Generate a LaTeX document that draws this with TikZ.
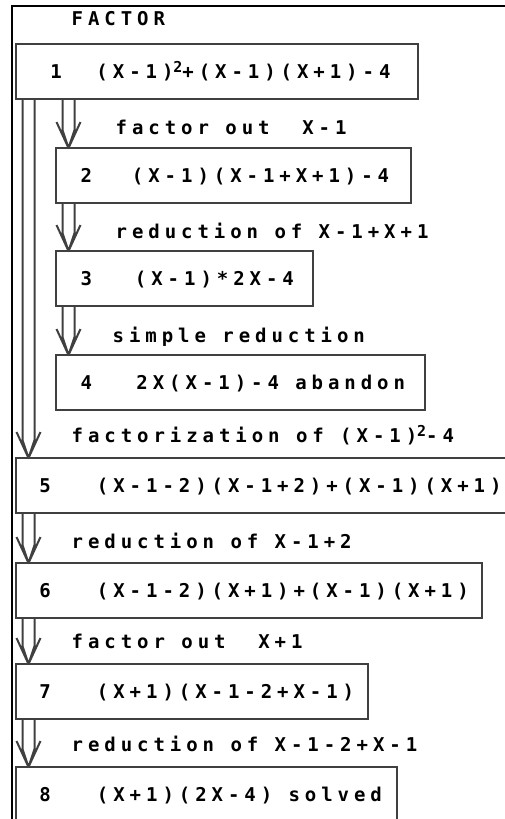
\documentclass[tikz,border=0pt]{standalone}
\usepackage{fontspec}
\newfontfamily\pixfont{DejaVu Sans Mono Bold}[LetterSpace=26]
\usetikzlibrary{calc}
\definecolor{ink}{gray}{0.25}
% raised square, box row text
\newcommand{\tsq}{\raisebox{6pt}{\fontsize{15}{15}\selectfont 2}}
\newcommand{\rowtext}[5]{\makebox[#1][l]{\hspace*{#2}\makebox[#3][l]{#4}#5}}
\tikzset{%
  frame/.style={draw=black, line width=2pt},
  stepbox/.style={draw=ink, line width=2pt, rectangle, anchor=north west,
    inner xsep=0pt, inner ysep=0pt, outer sep=0pt, minimum height=55pt,
    text height=14pt, text depth=0pt},
  lbl/.style={anchor=base west, inner sep=0pt},
  head/.style={anchor=base west, inner sep=0pt},
  dbl/.style={draw=ink, line width=2pt, line join=round, to path={
    ($(\tikztostart)+(-6,0)$) -- ($(\tikztotarget)+(-6,-18)$) -- (\tikztotarget)
    ($(\tikztostart)+(6,0)$) -- ($(\tikztotarget)+(6,-18)$) -- (\tikztotarget)
    ($(\tikztotarget)+(-12,-26)$) -- (\tikztotarget) -- ($(\tikztotarget)+(12,-26)$)}}%
}

\begin{document}
\begin{tikzpicture}[x=1pt, y=-1pt,
    font=\pixfont\fontsize{19}{21}\selectfont]
\useasboundingbox (0,0) rectangle (504,819);

\draw[frame] (12,830) |- (600,6);
\node[head] (title) at (71.5,25) {FACTOR};

% expression boxes
\node[stepbox] (b1) at (15.5,44)
{\rowtext{402.5pt}{35pt}{46pt}{1}{(X-1)\tsq+(X-1)(X+1)-4}};
\node[stepbox] (b2) at (55.5,148)
{\rowtext{355.5pt}{25pt}{51.5pt}{2}{(X-1)(X-1+X+1)-4}};
\node[stepbox] (b3) at (55.5,251)
{\rowtext{257.5pt}{25pt}{54.5pt}{3}{(X-1)*2X-4}};
\node[stepbox] (b4) at (55.5,355)
{\rowtext{369.5pt}{25pt}{56pt}{4}{2X(X-1)-4 abandon}};
\node[stepbox] (b5) at (15.5,458)
{\rowtext{600pt}{24pt}{57.5pt}{5}{(X-1-2)(X-1+2)+(X-1)(X+1)}};
\node[stepbox] (b6) at (15.5,563)
{\rowtext{466.5pt}{24pt}{57.5pt}{6}{(X-1-2)(X+1)+(X-1)(X+1)}};
\node[stepbox] (b7) at (15.5,664)
{\rowtext{352.5pt}{24pt}{57.5pt}{7}{(X+1)(X-1-2+X-1)}};
\node[stepbox] (b8) at (15.5,767)
{\rowtext{381.5pt}{24pt}{57.5pt}{8}{(X+1)(2X-4) solved}};

% rule names
\node[lbl] (t12) at (115.5,134) {factor out~~X-1};
\node[lbl] (t23) at (115.5,238) {reduction of X-1+X+1};
\node[lbl] (t34) at (112.5,342) {simple reduction};
\node[lbl] (t15) at (71.5,442) {factorization of (X-1)\tsq-4};
\node[lbl] (t56) at (71.5,548) {reduction of X-1+2};
\node[lbl] (t67) at (71.5,648) {factor out~~X+1};
\node[lbl] (t78) at (71.5,751) {reduction of X-1-2+X-1};

\draw[dbl] ($(b1.south -| b2.west)+(13,0)$) to ($(b2.north west)+(13,0)$);
\draw[dbl] ($(b2.south west)+(13,0)$) to ($(b3.north west)+(13,0)$);
\draw[dbl] ($(b3.south west)+(13,0)$) to ($(b4.north west)+(13,0)$);
\draw[dbl] ($(b1.south west)+(13,0)$) to ($(b5.north west)+(13,0)$);
\draw[dbl] ($(b5.south west)+(13,0)$) to ($(b6.north west)+(13,0)$);
\draw[dbl] ($(b6.south west)+(13,0)$) to ($(b7.north west)+(13,0)$);
\draw[dbl] ($(b7.south west)+(13,0)$) to ($(b8.north west)+(13,0)$);

\end{tikzpicture}
\end{document}
